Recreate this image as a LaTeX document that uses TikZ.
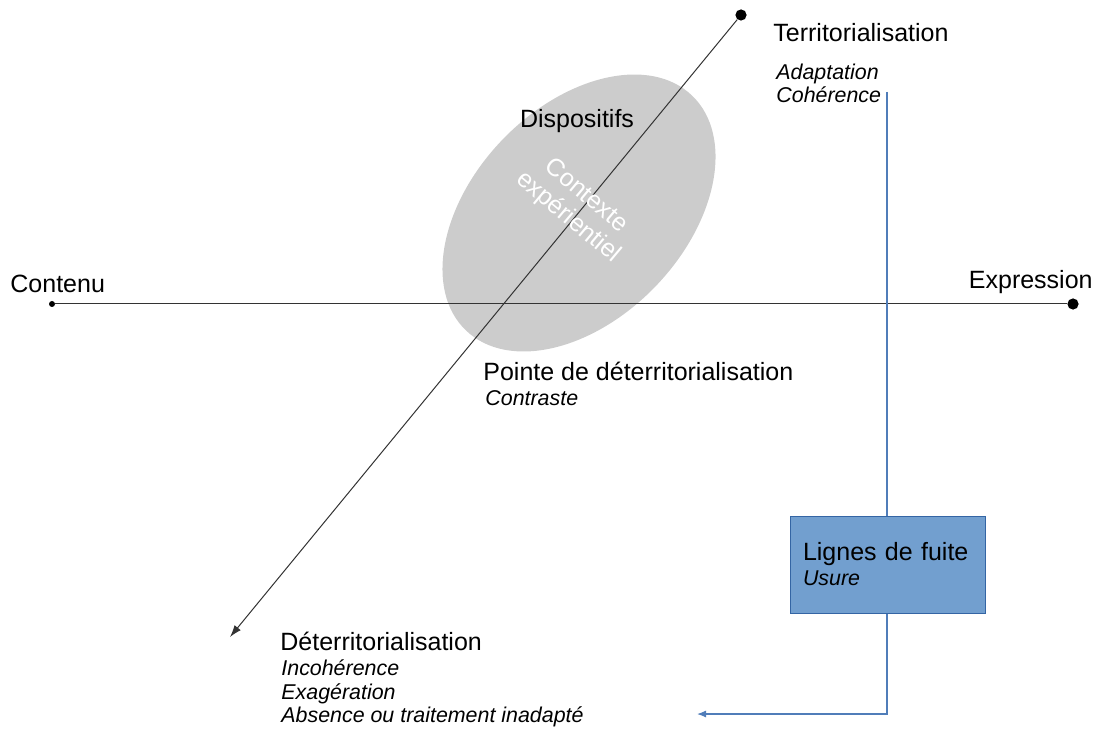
\documentclass[tikz,border=0pt]{standalone}
\usepackage{fontspec}
\setmainfont{Liberation Sans}
\usetikzlibrary{arrows.meta, positioning}
\definecolor{EllipseGray}{RGB}{204, 204, 204}
\definecolor{FuiteBlue}{RGB}{114, 159, 207}
\definecolor{FuiteEdge}{RGB}{52, 101, 164}
\definecolor{FuiteLine}{RGB}{80, 125, 185}
\newcommand{\txtmain}{\fontsize{12.5}{14}\selectfont}
\newcommand{\txtsub}{\fontsize{10.7}{12.5}\selectfont\itshape}

\begin{document}
\begin{tikzpicture}[x=0.5pt, y=0.5pt,
    axe/.style={black!80, line width=0.5pt},
    bigdot/.style={circle, fill=black, inner sep=0pt, minimum size=5.6pt},
    smalldot/.style={circle, fill=black, inner sep=0pt, minimum size=3pt},
    etiquette/.style={anchor=base west, inner sep=0pt, font=\txtmain},
    sousetiq/.style={anchor=base west, inner sep=0pt, font=\txtsub},
    fuitebox/.style={draw=FuiteEdge, fill=FuiteBlue, line width=0.5pt,
      minimum width=97.5pt, minimum height=48.5pt, text width=84.5pt,
      align=left, inner sep=0pt, font=\fontsize{12.5}{12.5}\selectfont},
    fuiteline/.style={FuiteLine, line width=0.6pt, -{Latex[length=4.5pt, width=3.5pt]}}]
    \useasboundingbox (0,0) rectangle (1096,729);

    % Contexte (ellipse)
    \fill[EllipseGray, rotate around={46:(579,516)}] (579,516) ellipse (163 and 106);
    \node[font=\txtmain, anchor=base] (dispositifs) at (577,601) {Dispositifs};

    % Axes
    \node[smalldot] (contenu) at (52,425) {};
    \node[bigdot] (expression) at (1073,425) {};
    \node[bigdot] (terr) at (741,714) {};
    \coordinate (deterr) at (230,92);
    \draw[axe] (contenu) -- (expression);
    \draw[axe, -{Latex[length=6pt, width=4pt]}] (terr) -- (deterr);

    \node[font=\txtmain, text=white, rotate=-40, align=center] (contexte) at (577,522) {Contexte\\expérientiel};

    % Labels
    \node[etiquette] (lcontenu) at (10,437) {Contenu};
    \node[etiquette, anchor=base east] (lexpression) at (1093,440) {Expression};
    \node[etiquette] (lterr) at (773,687) {Territorialisation};
    \node[sousetiq] (adaptation) at (776,649) {Adaptation};
    \node[sousetiq] (coherence) at (776,626) {Cohérence};
    \node[etiquette] (pointe) at (483,349) {Pointe de déterritorialisation};
    \node[sousetiq] (contraste) at (485,324) {Contraste};
    \node[etiquette] (lderr) at (280,79) {Déterritorialisation};
    \node[sousetiq] (incoherence) at (281,54) {Incohérence};
    \node[sousetiq] (exageration) at (281,30) {Exagération};
    \node[sousetiq] (absence) at (281,7) {Absence ou traitement inadapté};

    % Lignes de fuite
    \coordinate (fuitehaut) at (887,637);
    \coordinate (fuitecoin) at (887,15);
    \coordinate (fuitefin) at (697,15);
    \draw[fuiteline] (fuitehaut) -- (fuitecoin) -- (fuitefin);
    \node[fuitebox] (fuite) at (887.5,164.5) {Lignes de fuite\\{\txtsub Usure}};
\end{tikzpicture}
\end{document}
